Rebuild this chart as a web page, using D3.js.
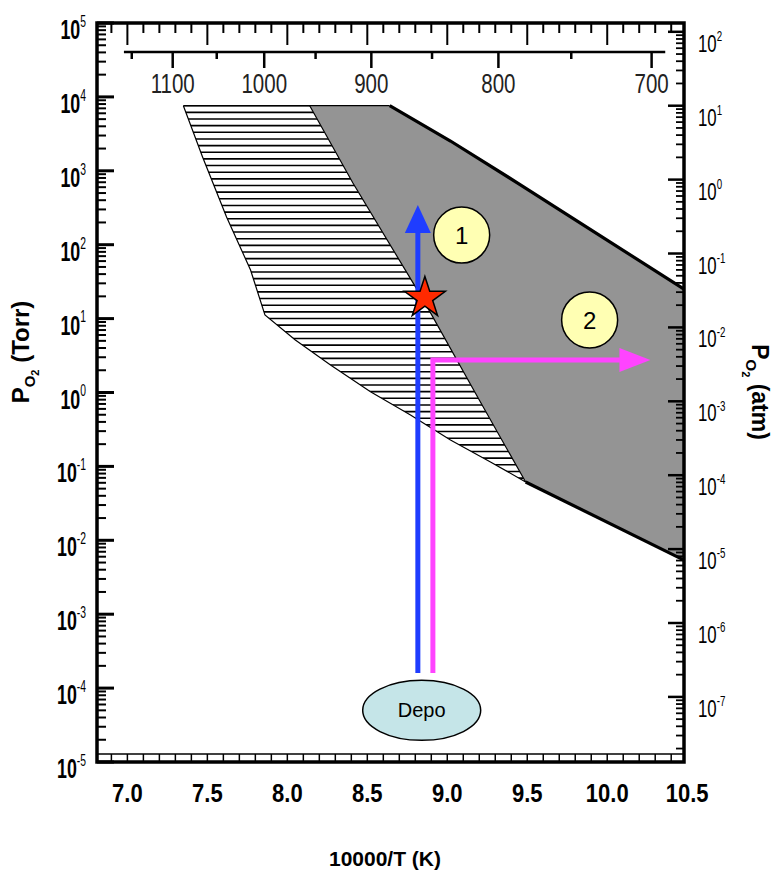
<!DOCTYPE html>
<html>
<head>
<meta charset="utf-8">
<script src="https://cdn.jsdelivr.net/npm/d3@7"></script>
<style>
  body { margin: 0; background: #fff; }
  svg { font-family: "Liberation Sans", Arial, sans-serif; }
</style>
</head>
<body>
<svg width="774" height="873"></svg>
<script>
// x = 10000/T (K), y = P(O2) in Torr
const xTickValues = [7.0, 7.5, 8.0, 8.5, 9.0, 9.5, 10.0, 10.5];
const torrDecades = d3.range(-5, 6);
const atmDecades = d3.range(-7, 3);
const tempMajor = [1100, 1000, 900, 800, 700]; // deg C
const tempMinor = [1150, 1050, 950, 850, 750];
const tempRange = [1160, 692];
const TORR_PER_ATM = 760;

// region boundaries: [10000/T, Torr]
const hatchLeft = [[7.35, 7600], [7.47, 1540], [7.62, 237], [7.77, 45.5], [7.86, 11.2]];
const hatchLower = [[7.86, 11.2], [8.05, 5.13], [8.27, 2.36], [8.52, 1.02], [8.77, 0.497], [9.02, 0.228], [9.27, 0.115], [9.49, 0.0615]];
const grayLeft = [[8.14, 7600], [8.41, 684], [8.85, 17.9], [9.20, 0.79], [9.49, 0.0615]];
const grayUpper = [[8.64, 7600], [9.02, 2530], [9.45, 662], [9.95, 135], [10.48, 25]];
const grayLower = [[9.49, 0.0615], [10.48, 0.0054]];

const star = [8.86, 19];
const circles = [{label: '1', x: 9.09, y: 135}, {label: '2', x: 9.89, y: 9.6}];
const depo = {label: 'Depo', x: 8.84, y: 5.0e-5};
const blueArrow = {x: 8.816, from: 1.6e-4, to: 344};
const pinkArrow = {x: 8.91, from: 1.6e-4, corner: 2.75, toX: 10.27};

const svg = d3.select('svg');
const pLeft = 97, pRight = 684, pTop = 23, pBottom = 762;

const x = d3.scaleLinear().domain([6.81, 10.48]).range([pLeft, pRight]);
const y = d3.scaleLog().domain([1e-5, 1e5]).range([pBottom, pTop]);

const line = d3.line().x((d) => x(d[0])).y((d) => y(d[1]));

// hatched region
const hatchPoly = [hatchLeft[0]].concat(grayLeft, hatchLower.slice().reverse(), hatchLeft.slice().reverse());
const defs = svg.append('defs');
defs.append('clipPath').attr('id', 'hatchClip')
    .append('path').attr('d', line(hatchPoly) + 'Z');

svg.append('path')
    .attr('d', line(hatchPoly) + 'Z')
    .attr('fill', '#fff');

const hatchG = svg.append('g').attr('clip-path', 'url(#hatchClip)');
const hTop = y(7600);
hatchG.selectAll('line')
    .data(d3.range(hTop, 500, 6.65))
    .enter().append('line')
    .attr('x1', pLeft).attr('x2', pRight)
    .attr('y1', (d) => d).attr('y2', (d) => d)
    .attr('stroke', '#000')
    .attr('stroke-width', 1.6);

// gray region
const grayPoly = grayUpper.concat([grayLower[1]], grayLower.slice().reverse(), grayLeft.slice().reverse());
svg.append('path')
    .attr('d', line(grayPoly) + 'Z')
    .attr('fill', '#949494');

// outlines
svg.append('path').attr('d', line(hatchLeft.concat(hatchLower.slice(1))))
    .attr('fill', 'none').attr('stroke', '#000').attr('stroke-width', 1.2);
svg.append('path').attr('d', line([hatchLeft[0], grayUpper[0]]))
    .attr('fill', 'none').attr('stroke', '#000').attr('stroke-width', 1.2);
svg.append('path').attr('d', line(grayLeft))
    .attr('fill', 'none').attr('stroke', '#000').attr('stroke-width', 1.2);
svg.append('path').attr('d', line(grayUpper))
    .attr('fill', 'none').attr('stroke', '#000').attr('stroke-width', 3.2);
svg.append('path').attr('d', line(grayLower))
    .attr('fill', 'none').attr('stroke', '#000').attr('stroke-width', 3.2);

// frame
const frame = svg.append('g').attr('stroke', '#000').attr('fill', 'none');
frame.append('rect')
    .attr('x', pLeft).attr('y', pTop)
    .attr('width', pRight - pLeft).attr('height', pBottom - pTop)
    .attr('stroke-width', 3.5);

// left axis ticks (Torr)
torrDecades.forEach(function(d) {
  frame.append('line').attr('x1', pLeft).attr('x2', pLeft + 17)
      .attr('y1', y(Math.pow(10, d))).attr('y2', y(Math.pow(10, d)))
      .attr('stroke-width', 3);
  if (d < 5) {
    for (let m = 2; m <= 9; m++) {
      const v = m * Math.pow(10, d);
      frame.append('line').attr('x1', pLeft).attr('x2', pLeft + 9)
          .attr('y1', y(v)).attr('y2', y(v))
          .attr('stroke-width', 2);
    }
  }
});

// right axis ticks (atm)
atmDecades.forEach(function(d) {
  const v0 = Math.pow(10, d) * TORR_PER_ATM;
  frame.append('line').attr('x1', pRight).attr('x2', pRight - 16)
      .attr('y1', y(v0)).attr('y2', y(v0))
      .attr('stroke-width', 2.5);
});
d3.range(-8, 3).forEach(function(d) {
  for (let m = 2; m <= 9; m++) {
    const v = m * Math.pow(10, d) * TORR_PER_ATM;
    if (v < 1e-5 || v > 1e5) continue;
    frame.append('line').attr('x1', pRight).attr('x2', pRight - 8)
        .attr('y1', y(v)).attr('y2', y(v))
        .attr('stroke-width', 1.8);
  }
});

// top frame ticks
d3.range(69, 105).forEach(function(k) {
  const v = k / 10;
  const long = k % 5 === 0;
  frame.append('line').attr('x1', x(v)).attr('x2', x(v))
      .attr('y1', pTop).attr('y2', pTop + (long ? 22 : 10))
      .attr('stroke-width', 2);
});

// bottom ruler band
frame.append('line').attr('x1', pLeft).attr('x2', pRight)
    .attr('y1', pBottom - 8).attr('y2', pBottom - 8)
    .attr('stroke-width', 1.5);
d3.range(69, 105).forEach(function(k) {
  const v = k / 10;
  frame.append('line').attr('x1', x(v)).attr('x2', x(v))
      .attr('y1', pBottom - 8).attr('y2', pBottom)
      .attr('stroke-width', 1.5);
});

// inner temperature axis (deg C)
const tx = (t) => x(10000 / (t + 273));
const tempAxisY = 52;
frame.append('line')
    .attr('x1', tx(tempRange[0])).attr('x2', tx(tempRange[1]))
    .attr('y1', tempAxisY).attr('y2', tempAxisY)
    .attr('stroke-width', 2.5);
tempMajor.forEach(function(t) {
  frame.append('line').attr('x1', tx(t)).attr('x2', tx(t))
      .attr('y1', tempAxisY).attr('y2', tempAxisY + 16)
      .attr('stroke-width', 2.5);
});
tempMinor.forEach(function(t) {
  frame.append('line').attr('x1', tx(t)).attr('x2', tx(t))
      .attr('y1', tempAxisY).attr('y2', tempAxisY + 7)
      .attr('stroke-width', 2.5);
});
svg.append('g').selectAll('text')
    .data(tempMajor)
    .enter().append('text')
    .attr('transform', (t) => 'translate(' + tx(t) + ',' + 93 + ') scale(0.76,1)')
    .attr('text-anchor', 'middle')
    .attr('font-size', 27)
    .attr('fill', '#222')
    .text((t) => t);

// power-of-ten labels
function powLabel(g, px, py, exp, opt) {
  const t = g.append('text')
      .attr('transform', 'translate(' + px + ',' + py + ') scale(' + opt.sx + ',1)')
      .attr('text-anchor', opt.anchor)
      .attr('font-size', opt.size)
      .attr('font-weight', opt.weight);
  t.append('tspan').text('10');
  t.append('tspan')
      .attr('dy', -opt.size * 0.45)
      .attr('font-size', opt.size * 0.58)
      .attr('font-weight', 'normal')
      .text(exp);
}

const leftLabels = svg.append('g');
torrDecades.forEach(function(d) {
  powLabel(leftLabels, 86, y(Math.pow(10, d)) + 16, d, {sx: 0.66, size: 27, anchor: 'end', weight: 'bold'});
});
const rightLabels = svg.append('g');
atmDecades.forEach(function(d) {
  powLabel(rightLabels, 698, y(Math.pow(10, d) * TORR_PER_ATM) + 20, d, {sx: 0.7, size: 24, anchor: 'start', weight: 'normal'});
});

svg.append('g').selectAll('text')
    .data(xTickValues)
    .enter().append('text')
    .attr('transform', (v) => 'translate(' + x(v) + ',802) scale(0.88,1)')
    .attr('text-anchor', 'middle')
    .attr('font-size', 25)
    .attr('font-weight', 'bold')
    .text((v) => v.toFixed(1));

// axis titles
const yTitle = svg.append('text')
    .attr('transform', 'translate(29,352) rotate(-90)')
    .attr('text-anchor', 'middle')
    .attr('font-size', 24)
    .attr('font-weight', 'bold');
yTitle.append('tspan').text('P');
yTitle.append('tspan').attr('dy', 6).attr('font-size', 15).text('O');
yTitle.append('tspan').attr('dy', 4).attr('font-size', 11).text('2');
yTitle.append('tspan').attr('dy', -10).text(' (Torr)');

const y2Title = svg.append('text')
    .attr('transform', 'translate(752,392) rotate(90)')
    .attr('text-anchor', 'middle')
    .attr('font-size', 23)
    .attr('font-weight', 'bold');
y2Title.append('tspan').text('P');
y2Title.append('tspan').attr('dy', 6).attr('font-size', 15).text('O');
y2Title.append('tspan').attr('dy', 4).attr('font-size', 11).text('2');
y2Title.append('tspan').attr('dy', -10).text(' (atm)');

svg.append('text')
    .attr('x', 385).attr('y', 866)
    .attr('text-anchor', 'middle')
    .attr('font-size', 21)
    .attr('font-weight', 'bold')
    .text('10000/T (K)');

// arrows
const blueX = x(blueArrow.x);
svg.append('line')
    .attr('x1', blueX).attr('x2', blueX)
    .attr('y1', y(blueArrow.from)).attr('y2', y(blueArrow.to) + 26)
    .attr('stroke', '#1f3dff').attr('stroke-width', 5);
svg.append('path')
    .attr('d', 'M' + blueX + ',' + y(blueArrow.to) + 'L' + (blueX + 13) + ',' + (y(blueArrow.to) + 28) +
      'L' + (blueX - 13) + ',' + (y(blueArrow.to) + 28) + 'Z')
    .attr('fill', '#1f3dff');

const pinkX = x(pinkArrow.x);
const pinkY = y(pinkArrow.corner);
const pinkEnd = x(pinkArrow.toX);
svg.append('path')
    .attr('d', 'M' + pinkX + ',' + y(pinkArrow.from) + 'V' + pinkY + 'H' + (pinkEnd - 28))
    .attr('fill', 'none')
    .attr('stroke', '#ff44ff').attr('stroke-width', 5);
svg.append('path')
    .attr('d', 'M' + pinkEnd + ',' + pinkY + 'L' + (pinkEnd - 31) + ',' + (pinkY - 12) +
      'L' + (pinkEnd - 31) + ',' + (pinkY + 12) + 'Z')
    .attr('fill', '#ff44ff');

// star
svg.append('path')
    .attr('d', d3.symbol(d3.symbolStar, 520)())
    .attr('transform', 'translate(' + x(star[0]) + ',' + y(star[1]) + ')')
    .attr('fill', '#ff2a00')
    .attr('stroke', '#000')
    .attr('stroke-width', 1.5);

// numbered circles
const cg = svg.append('g').selectAll('g')
    .data(circles)
    .enter().append('g')
    .attr('transform', (d) => 'translate(' + x(d.x) + ',' + y(d.y) + ')');
cg.append('circle').attr('r', 28)
    .attr('fill', '#ffffb3').attr('stroke', '#000').attr('stroke-width', 1.5);
cg.append('text').attr('text-anchor', 'middle').attr('dy', 9)
    .attr('font-size', 24).text((d) => d.label);

// Depo ellipse
const dg = svg.append('g')
    .attr('transform', 'translate(' + x(depo.x) + ',' + y(depo.y) + ')');
dg.append('ellipse').attr('rx', 59).attr('ry', 30)
    .attr('fill', '#c5e5e8').attr('stroke', '#000').attr('stroke-width', 1.5);
dg.append('text').attr('text-anchor', 'middle').attr('dy', 7)
    .attr('font-size', 20).text(depo.label);
</script>
</body>
</html>
